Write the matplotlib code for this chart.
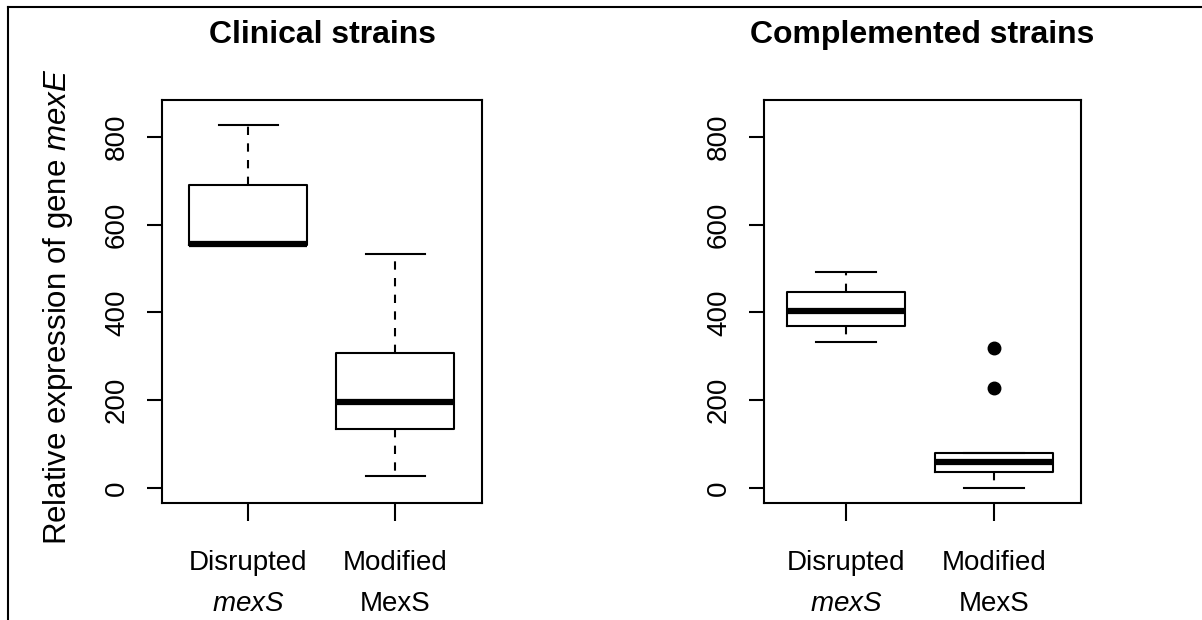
import matplotlib
matplotlib.use("Agg")
import matplotlib.pyplot as plt
from matplotlib.lines import Line2D

plt.rcParams['font.family'] = ['Liberation Sans', 'DejaVu Sans']
plt.rcParams['mathtext.fontset'] = 'custom'
plt.rcParams['mathtext.rm'] = 'Liberation Sans'
plt.rcParams['mathtext.it'] = 'Liberation Sans:italic'

# Box statistics (min, q1, median, q3, max, outliers)
groups = ["Disrupted\n$\\it{mexS}$", "Modified\nMexS"]

clinical_lo = [553, 27]
clinical_q1 = [553, 135]
clinical_med = [556, 196]
clinical_q3 = [690, 308]
clinical_hi = [828, 534]
clinical_out = [[], []]

compl_lo = [333, 0]
compl_q1 = [370, 37]
compl_med = [404, 60]
compl_q3 = [447, 80]
compl_hi = [493, 80]
compl_out = [[], [227, 319]]

yticks = [0, 200, 400, 600, 800]


def make_stats(lo, q1, med, q3, hi, out):
    stats = []
    for i in range(len(lo)):
        stats.append(dict(whislo=lo[i], q1=q1[i], med=med[i], q3=q3[i],
                          whishi=hi[i], fliers=out[i]))
    return stats


def draw_panel(ax, stats, title, xlim):
    ax.bxp(stats, positions=[1, 2], widths=0.8, capwidths=0.4,
           showfliers=True,
           boxprops=dict(color='black', linewidth=1.5),
           medianprops=dict(color='black', linewidth=4.5, solid_capstyle='butt'),
           whiskerprops=dict(color='black', linewidth=1.5, linestyle=(0, (4, 4))),
           capprops=dict(color='black', linewidth=1.5),
           flierprops=dict(marker='o', markerfacecolor='black',
                           markeredgecolor='black', markersize=9))
    ax.set_xlim(*xlim)
    ax.set_ylim(-34, 884)
    ax.set_yticks(yticks)
    ax.set_yticklabels([str(v) for v in yticks], rotation=90, va='center')
    ax.set_xticks([1, 2])
    ax.set_xticklabels(groups, linespacing=1.75)
    ax.tick_params(axis='y', length=11, width=1.5, labelsize=20, pad=12)
    ax.tick_params(axis='x', length=13, width=1.5, labelsize=20, pad=21)
    for s in ax.spines.values():
        s.set_linewidth(1.5)
    ax.set_title(title, fontsize=23, fontweight='bold', pad=41)


fig = plt.figure(figsize=(12.02, 6.2), dpi=100)
ax1 = fig.add_axes([0.1348, 0.1887, 0.2662, 0.65])
ax2 = fig.add_axes([0.6356, 0.1887, 0.2637, 0.65])

draw_panel(ax1, make_stats(clinical_lo, clinical_q1, clinical_med, clinical_q3,
                           clinical_hi, clinical_out),
           "Clinical strains", (0.415, 2.59))
draw_panel(ax2, make_stats(compl_lo, compl_q1, compl_med, compl_q3,
                           compl_hi, compl_out),
           "Complemented strains", (0.446, 2.588))

ax1.set_ylabel("Relative expression of gene $\\it{mexE}$", fontsize=22.5)
ax1.yaxis.set_label_coords(-0.272, 0.486)

# outer frame: only top and left edges are visible
fig.add_artist(Line2D([8 / 1202, 1], [1 - 7 / 620, 1 - 7 / 620],
                      transform=fig.transFigure, color='black', linewidth=1.5))
fig.add_artist(Line2D([8 / 1202, 8 / 1202], [0, 1 - 7 / 620],
                      transform=fig.transFigure, color='black', linewidth=1.5))

fig.savefig("out.png", dpi=100)
